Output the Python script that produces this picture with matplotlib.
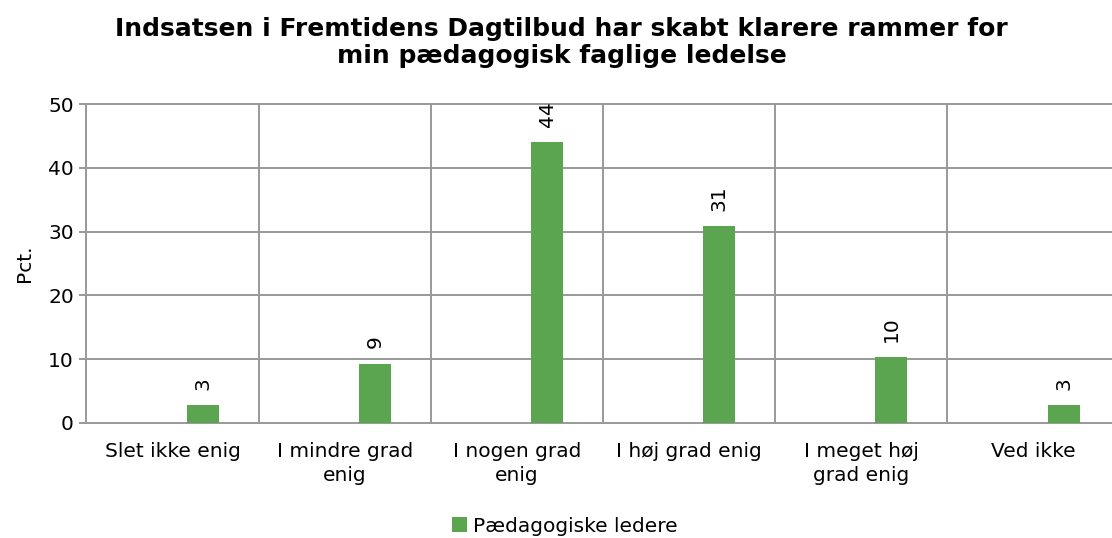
import matplotlib
matplotlib.use("Agg")
import matplotlib.pyplot as plt
import numpy as np

categories = ["Slet ikke enig", "I mindre grad\nenig", "I nogen grad\nenig",
              "I høj grad enig", "I meget høj\ngrad enig", "Ved ikke"]
values = [2.8, 9.3, 44.0, 30.9, 10.3, 2.8]
value_labels = ["3", "9", "44", "31", "10", "3"]
series_name = "Pædagogiske ledere"
title = "Indsatsen i Fremtidens Dagtilbud har skabt klarere rammer for\nmin pædagogisk faglige ledelse"

plt.rcParams['font.family'] = ['DejaVu Sans']

fig = plt.figure(figsize=(11.12, 5.38), dpi=100)
ax = fig.add_axes([86.5/1112, 115/538, (1119.5-86.5)/1112, (423-104)/538])

x = np.arange(len(categories))
offset = 0.175
width = 0.186
green = "#5BA551"
bars = ax.bar(x + offset, values, width=width, color=green, label=series_name, zorder=3)

for xi, v, lab in zip(x, values, value_labels):
    ax.annotate(lab, (xi + offset, v), xytext=(0, 11), textcoords="offset points",
                rotation=90, ha="center", va="bottom", fontsize=14.5, color="black")

ax.set_xlim(-0.5, len(categories) - 0.5)
ax.set_ylim(0, 50)
ax.set_yticks(np.arange(0, 51, 10))
ax.set_xticks(x)
ax.set_xticklabels(categories, fontsize=14.5, linespacing=1.3)
ax.tick_params(axis="x", length=0, pad=14)
ax.tick_params(axis="y", length=6, width=1.4, color="#999999", labelsize=14.5, pad=3)

grid_color = "#999999"
for yv in np.arange(0, 51, 10):
    ax.axhline(yv, color=grid_color, lw=1.4, zorder=1, clip_on=False)
for b in np.arange(-0.5, len(categories), 1.0):
    ax.axvline(b, color=grid_color, lw=1.4, zorder=1, clip_on=False)
for s in ax.spines.values():
    s.set_visible(False)

ax.set_ylabel("Pct.", fontsize=14.5, labelpad=10)

fig.text(0.505, 0.968, title, ha="center", va="top", fontsize=18, fontweight="bold",
         linespacing=1.15)

fig.legend(handles=[bars], labels=[series_name], loc="center", bbox_to_anchor=(0.508, 0.022),
           frameon=False, fontsize=14.5, handlelength=0.75, handleheight=0.75, handletextpad=0.3,
           borderaxespad=0)

fig.savefig("out.png", dpi=100)
